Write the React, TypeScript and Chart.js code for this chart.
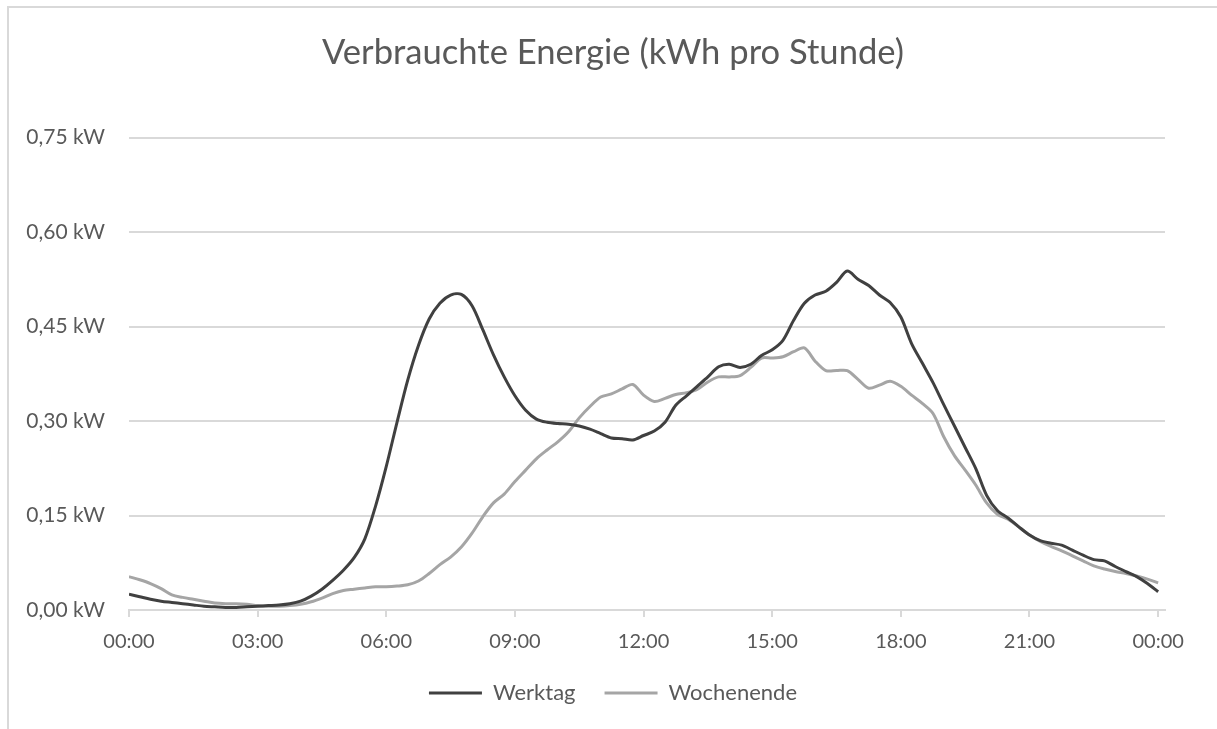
import React, { useEffect, useRef } from "react";
import { Chart, registerables } from "chart.js";

Chart.register(...registerables);

// Average power per 15-minute slot (00:00 ... 24:00)
const werktag: number[] = [
  0.025, 0.021, 0.017, 0.014, 0.012, 0.010, 0.008, 0.006, 0.005, 0.004, 0.004, 0.005,
  0.006, 0.007, 0.008, 0.010, 0.014, 0.022, 0.033, 0.047, 0.063, 0.083, 0.113, 0.165,
  0.228, 0.298, 0.365, 0.420, 0.462, 0.487, 0.500, 0.501, 0.483, 0.445, 0.405, 0.370,
  0.340, 0.317, 0.303, 0.298, 0.296, 0.295, 0.292, 0.287, 0.280, 0.273, 0.272, 0.270,
  0.277, 0.284, 0.298, 0.325, 0.340, 0.355, 0.370, 0.386, 0.390, 0.385, 0.390, 0.404,
  0.413, 0.428, 0.460, 0.487, 0.500, 0.506, 0.520, 0.538, 0.525, 0.515, 0.500, 0.488,
  0.465, 0.423, 0.392, 0.361, 0.326, 0.292, 0.258, 0.224, 0.182, 0.158, 0.146, 0.132,
  0.119, 0.110, 0.106, 0.103, 0.095, 0.087, 0.080, 0.078, 0.069, 0.061, 0.053, 0.042,
  0.029,
];

const wochenende: number[] = [
  0.053, 0.048, 0.042, 0.034, 0.024, 0.020, 0.017, 0.014, 0.011, 0.010, 0.010, 0.009,
  0.007, 0.006, 0.006, 0.007, 0.009, 0.013, 0.019, 0.026, 0.031, 0.033, 0.035, 0.037,
  0.037, 0.038, 0.040, 0.046, 0.058, 0.072, 0.084, 0.100, 0.122, 0.148, 0.170, 0.184,
  0.204, 0.222, 0.240, 0.254, 0.267, 0.283, 0.305, 0.323, 0.338, 0.343, 0.351, 0.358,
  0.341, 0.331, 0.336, 0.342, 0.345, 0.350, 0.362, 0.370, 0.370, 0.372, 0.385, 0.400,
  0.400, 0.402, 0.410, 0.416, 0.395, 0.380, 0.380, 0.380, 0.366, 0.352, 0.357, 0.363,
  0.355, 0.341, 0.328, 0.312, 0.275, 0.245, 0.222, 0.198, 0.170, 0.152, 0.144, 0.132,
  0.119, 0.109, 0.101, 0.094, 0.086, 0.078, 0.070, 0.065, 0.061, 0.058, 0.054, 0.049,
  0.043,
];

// Time of day in hours for each slot (15-minute steps)
const hours: number[] = werktag.map((_, i) => i / 4);

const seriesNames: string[] = ["Werktag", "Wochenende"];
const titleText = "Verbrauchte Energie (kWh pro Stunde)";
const xTickHours: number[] = [0, 3, 6, 9, 12, 15, 18, 21, 24];
const yTickValues: number[] = [0, 0.15, 0.3, 0.45, 0.6, 0.75];

const FONT = "Lato, 'Open Sans', sans-serif";
const TEXT = "#595959";
const GRID = "#d9d9d9";

export default function App() {
  const ref = useRef<HTMLCanvasElement | null>(null);

  useEffect(() => {
    document.body.style.margin = "0";
    const canvas = ref.current;
    if (!canvas) return;
    const chart = new Chart(canvas, {
      type: "line",
      data: {
        datasets: [
          {
            label: seriesNames[0],
            data: hours.map((h, i) => ({ x: h, y: werktag[i] })),
            borderColor: "#404040",
            backgroundColor: "#404040",
            borderWidth: 3,
            pointRadius: 0,
            tension: 0.3,
          },
          {
            label: seriesNames[1],
            data: hours.map((h, i) => ({ x: h, y: wochenende[i] })),
            borderColor: "#a5a5a5",
            backgroundColor: "#a5a5a5",
            borderWidth: 3,
            pointRadius: 0,
            tension: 0.3,
          },
        ],
      },
      options: {
        animation: false,
        responsive: false,
        maintainAspectRatio: false,
        layout: { padding: { left: 9, right: 0, top: 0, bottom: 15 } },
        plugins: {
          title: {
            display: true,
            text: titleText,
            color: TEXT,
            font: { family: FONT, size: 34.6, weight: "normal" },
            padding: { top: 32, bottom: 64 },
          },
          legend: {
            display: true,
            position: "bottom",
            labels: {
              color: TEXT,
              font: { family: FONT, size: 22 },
              usePointStyle: true,
              pointStyle: "line",
              pointStyleWidth: 53,
              boxHeight: 22,
              padding: 29,
            },
          },
          tooltip: { enabled: false },
        },
        scales: {
          x: {
            type: "linear",
            min: 0,
            max: 24.16,
            afterBuildTicks: (scale: any) => {
              scale.ticks = xTickHours.map((v) => ({ value: v }));
            },
            afterFit: (scale: any) => {
              scale.height = 43;
            },
            ticks: {
              color: TEXT,
              font: { family: FONT, size: 20 },
              padding: 13,
              maxRotation: 0,
              autoSkip: false,
              callback: (v: any) => {
                const h = Number(v) % 24;
                return (h < 10 ? "0" : "") + h + ":00";
              },
            },
            grid: {
              display: true,
              drawOnChartArea: false,
              drawTicks: true,
              tickLength: 7,
              color: GRID,
              lineWidth: 2,
            },
            border: { display: true, color: GRID, width: 2 },
          },
          y: {
            type: "linear",
            min: 0,
            max: 0.75,
            afterBuildTicks: (scale: any) => {
              scale.ticks = yTickValues.map((v) => ({ value: v }));
            },
            afterFit: (scale: any) => {
              scale.width = 120;
            },
            ticks: {
              color: TEXT,
              font: { family: FONT, size: 21 },
              padding: 24,
              callback: (v: any) => Number(v).toFixed(2).replace(".", ",") + " kW",
            },
            grid: { color: GRID, lineWidth: 2, drawTicks: false },
            border: { display: false },
          },
          yRight: {
            type: "linear",
            position: "right",
            display: true,
            afterFit: (scale: any) => {
              scale.width = 52;
            },
            ticks: { display: false },
            grid: { display: false, drawTicks: false },
            border: { display: false },
          },
        },
      },
    });
    return () => chart.destroy();
  }, []);

  return (
    <div style={{ position: "relative", width: 1217, height: 729, background: "#fff", overflow: "hidden" }}>
      <canvas ref={ref} width={1217} height={729} style={{ position: "absolute", left: 0, top: 0 }} />
      <div
        style={{
          position: "absolute",
          left: 7,
          top: 6,
          right: -4,
          bottom: -4,
          borderTop: "2px solid #d9d9d9",
          borderLeft: "2px solid #d9d9d9",
          pointerEvents: "none",
        }}
      />
    </div>
  );
}
